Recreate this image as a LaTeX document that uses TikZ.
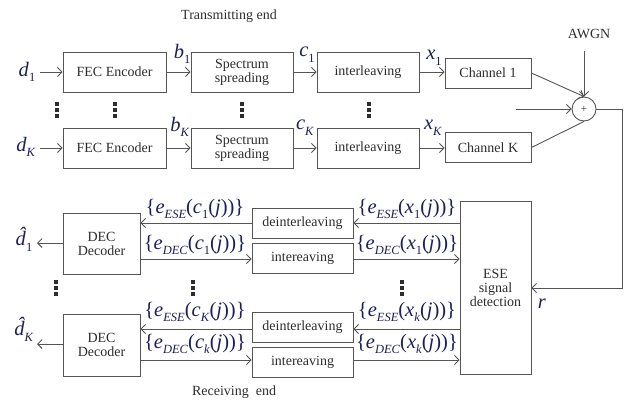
\documentclass[tikz,border=0pt]{standalone}
\usepackage{fontspec}
\setmainfont{Liberation Serif}
\usetikzlibrary{arrows.meta}
\definecolor{linec}{RGB}{85,85,85}
\definecolor{textc}{RGB}{45,45,45}
\definecolor{mathc}{RGB}{28,32,88}
\newcommand{\sbs}[1]{\raisebox{-0.28em}{\fontsize{12.5}{13}\selectfont #1}}
\newcommand{\iv}[1]{\textit{#1}}
\newcommand{\hatd}{\textit{\accent"02C6 d}}
\tikzset{
  blk/.style={draw=linec, line width=0.9pt, fill=white, text=textc, font=\fontsize{14}{15}\selectfont, align=center, inner sep=0pt},
  conn/.style={draw=linec, line width=0.9pt},
  arr/.style={conn, -{Straight Barb[length=4.5pt,width=9pt,line width=0.9pt]}},
  lab/.style={text=mathc, font=\fontsize{20.5}{21}\selectfont, inner sep=0pt},
  txt/.style={text=textc, font=\fontsize{14}{15}\selectfont, inner sep=0pt},
  vdot/.pic={\fill[textc] (-1.6,-7.6) rectangle (1.6,-4.4); \fill[textc] (-1.6,-1.6) rectangle (1.6,1.6); \fill[textc] (-1.6,4.4) rectangle (1.6,7.6);}
}
\begin{document}
\begin{tikzpicture}[x=1pt,y=-1pt]
\useasboundingbox (0,0) rectangle (628,400);
% titles
\node[txt] (tt) at (229,16) {Transmitting end};
\node[txt] (rt) at (234,392) {Receiving\ \ end};
\node[txt] (awgn) at (589,34) {AWGN};
% transmitter row 1
\node[blk, minimum width=103pt, minimum height=40pt] (fec1) at (114.5,72) {FEC Encoder};
\node[blk, minimum width=102pt, minimum height=40pt] (sp1) at (242,72) {Spectrum\\[-1pt]spreading};
\node[blk, minimum width=102pt, minimum height=40pt] (il1) at (368,72) {interleaving};
\node[blk, minimum width=86pt, minimum height=30pt] (ch1) at (488,73) {Channel 1};
% transmitter row K
\node[blk, minimum width=103pt, minimum height=40pt] (fecK) at (114.5,148) {FEC Encoder};
\node[blk, minimum width=102pt, minimum height=40pt] (spK) at (242,148) {Spectrum\\[-1pt]spreading};
\node[blk, minimum width=102pt, minimum height=40pt] (ilK) at (368,148) {interleaving};
\node[blk, minimum width=86pt, minimum height=30pt] (chK) at (488,147.5) {Channel K};
% labels
\node[lab] (d1) at (27,72) {\iv{d}\sbs{1}};
\node[lab] (dK) at (26,147) {\iv{d}\sbs{\iv{K}}};
\node[lab] (b1) at (182,54) {\iv{b}\sbs{1}};
\node[lab] (bK) at (180,127) {\iv{b}\sbs{\iv{K}}};
\node[lab] (c1) at (307,55) {\iv{c}\sbs{1}};
\node[lab] (cK) at (305,128) {\iv{c}\sbs{\iv{K}}};
\node[lab] (x1) at (434,58) {\iv{x}\sbs{1}};
\node[lab] (xK) at (433,128) {\iv{x}\sbs{\iv{K}}};
\coordinate (d1e) at (40,72);
\coordinate (dKe) at (40,148);
\draw[arr] (d1e) -- (fec1.west |- d1e);
\draw[arr] (dKe) -- (fecK.west |- dKe);
\draw[arr] (fec1) -- (sp1);
\draw[arr] (sp1) -- (il1);
\draw[arr] (il1.east) -- (il1.east -| ch1.west);
\draw[arr] (fecK) -- (spK);
\draw[arr] (spK) -- (ilK);
\draw[arr] (ilK.east) -- (ilK.east -| chK.west);
% sum
\node[draw=linec, line width=0.9pt, circle, minimum size=24pt, inner sep=0pt, fill=white, text=textc, font=\fontsize{11}{11}\selectfont] (sum) at (584,109) {+};
\coordinate (aw) at (584,51);
\draw[arr] (aw) -- (sum.north);
\draw[arr] (ch1.east) -- (sum.north);
\coordinate (mid) at (516,109);
\draw[arr] (mid) -- (sum.west);
\draw[conn] (chK.east) -- (sum.south);
% dots top
\pic at (57,110) {vdot};
\pic at (115,110) {vdot};
\pic at (242,110) {vdot};
\pic at (369,110) {vdot};
% receiver
\node[blk, minimum width=71pt, minimum height=173pt] (ese) at (495.5,287.5) {ESE\\[-1pt]signal\\[-1pt]detection};
\node[lab] (r) at (542,304) {\iv{r}};
\coordinate (c1r) at (622,109);
\coordinate (c2r) at (622,288);
\draw[arr] (sum.east) -- (c1r) -- (c2r) -- (ese.east |- c2r);
% row 1
\node[blk, minimum width=77pt, minimum height=61pt] (dec1) at (101.5,243.5) {DEC\\[-1pt]Decoder};
\node[blk, minimum width=101pt, minimum height=30pt] (di1) at (302.5,223) {deinterleaving};
\node[blk, minimum width=101pt, minimum height=30pt] (in1) at (302.5,258) {intereaving};
\coordinate (y1a) at (0,223);
\coordinate (y1b) at (0,259);
\draw[arr] (ese.west |- y1a) -- (di1.east |- y1a);
\draw[arr] (di1.west |- y1a) -- (dec1.east |- y1a);
\draw[arr] (dec1.east |- y1b) -- (in1.west |- y1b);
\draw[arr] (in1.east |- y1b) -- (ese.west |- y1b);
\node[lab] (l1) at (195,209) {\{\iv{e}\sbs{\iv{ESE}}(\iv{c}\sbs{1}(\iv{j}))\}};
\node[lab] (l2) at (195,245) {\{\iv{e}\sbs{\iv{DEC}}(\iv{c}\sbs{1}(\iv{j}))\}};
\node[lab] (l3) at (407,209) {\{\iv{e}\sbs{\iv{ESE}}(\iv{x}\sbs{1}(\iv{j}))\}};
\node[lab] (l4) at (407,245) {\{\iv{e}\sbs{\iv{DEC}}(\iv{x}\sbs{1}(\iv{j}))\}};
\node[lab] (dh1) at (24,239) {\hatd\sbs{1}};
\coordinate (o1) at (37,243);
\draw[arr] (dec1.west |- o1) -- (o1);
% row K
\node[blk, minimum width=77pt, minimum height=62pt] (decK) at (101.5,345) {DEC\\[-1pt]Decoder};
\node[blk, minimum width=101pt, minimum height=30pt] (diK) at (302.5,327) {deinterleaving};
\node[blk, minimum width=101pt, minimum height=30pt] (inK) at (302.5,362) {intereaving};
\coordinate (yKa) at (0,329);
\coordinate (yKb) at (0,360);
\draw[arr] (ese.west |- yKa) -- (diK.east |- yKa);
\draw[arr] (diK.west |- yKa) -- (decK.east |- yKa);
\draw[arr] (decK.east |- yKb) -- (inK.west |- yKb);
\draw[arr] (inK.east |- yKb) -- (ese.west |- yKb);
\node[lab] (l5) at (195,312) {\{\iv{e}\sbs{\iv{ESE}}(\iv{c}\sbs{\iv{K}}(\iv{j}))\}};
\node[lab] (l6) at (195,344) {\{\iv{e}\sbs{\iv{DEC}}(\iv{c}\sbs{\iv{k}}(\iv{j}))\}};
\node[lab] (l7) at (407,312) {\{\iv{e}\sbs{\iv{ESE}}(\iv{x}\sbs{\iv{k}}(\iv{j}))\}};
\node[lab] (l8) at (407,344) {\{\iv{e}\sbs{\iv{DEC}}(\iv{x}\sbs{\iv{k}}(\iv{j}))\}};
\node[lab] (dhK) at (24,329) {\hatd\sbs{\iv{K}}};
\coordinate (oK) at (37,344);
\draw[arr] (decK.west |- oK) -- (oK);
% dots bottom
\pic at (56,288) {vdot};
\pic at (193,288) {vdot};
\pic at (402,288) {vdot};
\end{tikzpicture}
\end{document}
